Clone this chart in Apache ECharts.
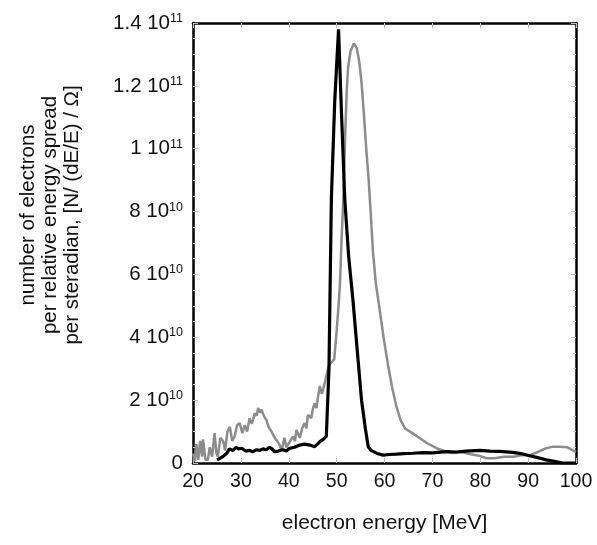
<!DOCTYPE html>
<html>
<head>
<meta charset="utf-8">
<script src="https://cdn.jsdelivr.net/npm/echarts@6/dist/echarts.min.js"></script>
<style>html,body{margin:0;padding:0;background:#fff}#c{width:597px;height:545px}</style>
</head>
<body>
<div id="c"></div>
<script>
// values in units of 1e10 electrons
var grayE = [20.0,20.4,20.7,21.1,21.5,21.9,22.1,22.6,23.1,23.5,24.0,24.5,24.9,25.2,25.7,26.3,26.7,27.2,27.7,28.2,28.7,29.2,29.75,30.3,30.8,31.3,31.8,32.3,32.9,33.3,33.6,34.0,34.3,34.8,35.3,35.8,36.4,36.9,37.4,38.0,38.5,39.1,39.5,39.8,40.3,40.9,41.3,41.6,42.3,42.8,43.3,43.7,44.0,44.7,45.0,45.4,45.8,46.1,46.5,46.9,47.2,47.6,47.85,48.2,48.6,49.0,49.5,50.0,50.4,50.7,51.0,51.4,51.8,52.1,52.4,52.9,53.6,54.2,54.7,55.2,55.7,56.2,56.7,57.1,57.6,58.2,59.0,59.8,60.8,61.6,62.5,63.4,64.3,65.8,67.4,69.0,70.9,72.6,74.3,76,78,80,81.3,83,85,87,88.8,90.4,92,93.8,95.2,96.6,98.2,99.2,100];
var grayN = [0.3,0.05,0.6,0.1,0.7,0.2,0.75,0.1,0.1,0.5,0.2,0.95,0.3,0.2,0.8,0.7,0.4,1.0,1.15,0.7,0.85,1.2,1.27,0.95,1.2,1.0,1.42,1.25,1.58,1.5,1.75,1.6,1.7,1.5,1.38,1.15,1.0,0.85,0.73,0.6,0.41,0.8,0.5,0.48,0.7,0.84,0.7,1.05,0.8,1.1,1.27,1.1,1.53,1.43,1.7,1.9,1.75,2.1,2.45,2.2,2.35,2.6,2.65,3.0,3.15,3.2,3.3,4.2,5.0,5.7,7.0,8.4,10.5,11.8,12.6,13.1,13.35,13.2,12.8,12.1,11.1,9.96,9.0,8.0,6.7,5.7,4.87,4.0,3.06,2.4,1.79,1.35,1.1,0.95,0.79,0.62,0.47,0.38,0.32,0.35,0.28,0.22,0.15,0.15,0.2,0.2,0.25,0.25,0.35,0.47,0.52,0.52,0.5,0.42,0.35];
var blackE = [25.0,25.6,26.2,27.0,27.6,28.35,29,29.5,30.2,31,31.8,32.5,33.2,33.9,34.6,35.3,36,36.5,37,37.8,38.8,39.5,40.2,41.2,42.3,43.3,44.4,45.4,46.0,46.5,47.2,47.85,48.2,48.4,48.9,49.6,50.4,51.0,51.7,52.5,53.4,54.3,55.2,56.0,56.6,57.2,58.5,59.7,61,62.5,64,65.9,68,70,72.9,75,77,79.9,82,84,86.8,88.5,90.3,92,93.8,95.5,97.2,100];
var blackN = [0.1,0.15,0.2,0.3,0.45,0.4,0.5,0.45,0.47,0.38,0.4,0.36,0.42,0.4,0.45,0.42,0.5,0.45,0.36,0.38,0.42,0.38,0.47,0.5,0.57,0.6,0.57,0.52,0.6,0.68,0.75,0.85,0.9,3.0,8.4,11.5,13.8,11.2,8.4,6.6,5.2,3.6,2.0,1.1,0.52,0.4,0.3,0.25,0.27,0.28,0.3,0.31,0.33,0.32,0.36,0.35,0.38,0.4,0.38,0.37,0.34,0.3,0.23,0.17,0.1,0.05,0.0,0.0];
var yTickLabels = {0:['0',''],2:['2 10','10'],4:['4 10','10'],6:['6 10','10'],8:['8 10','10'],10:['1 10','11'],12:['1.2 10','11'],14:['1.4 10','11']};
var xTitle = 'electron energy [MeV]';
var yTitle = 'number of electrons\nper relative energy spread\nper steradian, [N/ (dE/E) / \u03A9]';

function pairs(xs, ys){ return xs.map(function(x,i){ return [x, ys[i]]; }); }

var font = 'Liberation Sans, Arial, Helvetica, sans-serif';
var chart = echarts.init(document.getElementById('c'));
var tickStyle = {show:true, inside:true, length:5, lineStyle:{color:'#bbb', width:1}};
var minorStyle = {show:true, length:3, lineStyle:{color:'#ccc', width:1}};
var frameLine = {show:true, onZero:false, lineStyle:{color:'#000', width:2.5}};
chart.setOption({
  animation:false,
  grid:{left:193, right:21, top:23, bottom:82},
  graphic:[{
    type:'text', x:50, y:215, rotation:Math.PI/2,
    style:{text:yTitle, font:'20.5px ' + font, fill:'#111', align:'center', verticalAlign:'middle', lineHeight:22}
  }],
  xAxis:[{
    type:'value', min:20, max:100, interval:10, position:'bottom',
    axisLine:frameLine,
    axisTick:tickStyle, minorTick:{show:false},
    splitLine:{show:false},
    axisLabel:{color:'#111', fontSize:19.5, fontFamily:font, margin:9},
    name:xTitle, nameLocation:'middle', nameGap:50,
    nameTextStyle:{color:'#111', fontSize:21, fontFamily:font}
  },{
    type:'value', min:20, max:100, interval:10, position:'top',
    axisLine:frameLine,
    axisTick:tickStyle, axisLabel:{show:false}, splitLine:{show:false}
  }],
  yAxis:[{
    type:'value', min:0, max:14, interval:2, position:'left',
    axisLine:frameLine,
    axisTick:tickStyle, minorTick:Object.assign({splitNumber:4}, minorStyle),
    splitLine:{show:false},
    axisLabel:{
      margin:10, fontFamily:font, color:'#111',
      formatter:function(v){ var t=yTickLabels[v]; if(!t) return ''; return t[1] ? '{b|'+t[0]+'}{s|'+t[1]+'}' : '{b|'+t[0]+'}'; },
      rich:{
        b:{fontSize:20.5, fontFamily:font, color:'#111', lineHeight:22},
        s:{fontSize:12.5, fontFamily:font, color:'#111', verticalAlign:'top', padding:[0,0,10,0], lineHeight:12}
      }
    }
  },{
    type:'value', min:0, max:14, interval:2, position:'right',
    axisLine:frameLine,
    axisTick:tickStyle, minorTick:Object.assign({splitNumber:4}, minorStyle),
    axisLabel:{show:false}, splitLine:{show:false}
  }],
  series:[{
    type:'line', data:pairs(grayE, grayN), showSymbol:false, symbol:'none',
    lineStyle:{color:'#8c8c8c', width:2.5}, z:2
  },{
    type:'line', data:pairs(blackE, blackN), showSymbol:false, symbol:'none',
    lineStyle:{color:'#000', width:3.2}, z:3
  }]
});
</script>
</body>
</html>
